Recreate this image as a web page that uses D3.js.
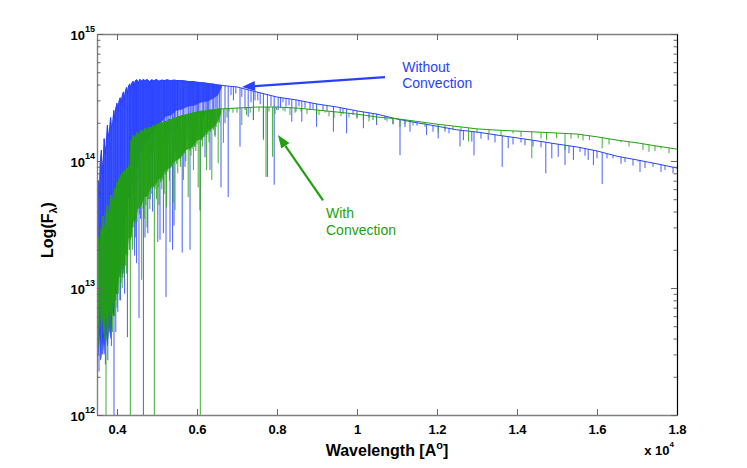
<!DOCTYPE html>
<html><head><meta charset="utf-8">
<script src="https://cdn.jsdelivr.net/npm/d3@7"></script>
<style>
body{margin:0;background:#fff}
text{font-family:"Liberation Sans",Arial,Helvetica,sans-serif}
</style>
</head><body><svg id="chart" width="747" height="468"></svg>
<script>
// Wavelength in units of 10^4 Angstrom, flux in units of 10^14
const xTicks = [0.4,0.6,0.8,1.0,1.2,1.4,1.6,1.8];
const xTickLabels = ["0.4","0.6","0.8","1","1.2","1.4","1.6","1.8"];
const yTickExponents = [12,13,14,15];
const yMinorMultipliers = [2,3,4,5,6,7,8,9];

// "Without Convection": upper envelope / continuum
const blueUpper = [[0.351,0.45],[0.353,0.70],[0.356,0.52],[0.358,0.95],[0.361,1.22],[0.363,0.80],[0.366,1.05],[0.368,1.50],[0.370,1.15],[0.373,1.35],[0.376,1.92],[0.378,1.55],[0.381,1.70],[0.384,2.20],[0.386,1.85],[0.389,1.95],[0.392,2.50],[0.394,2.15],[0.397,2.60],[0.400,2.85],[0.402,2.45],[0.405,2.95],[0.408,3.15],[0.410,2.75],[0.413,3.25],[0.416,3.50],[0.418,3.05],[0.421,3.55],[0.424,3.80],[0.426,3.40],[0.429,3.90],[0.432,4.05],[0.434,3.70],[0.437,4.10],[0.440,4.25],[0.443,3.95],[0.446,4.30],[0.450,4.36],[0.453,4.10],[0.457,4.40],[0.461,4.25],[0.465,4.38],[0.470,4.30],[0.476,4.38],[0.481,4.22],[0.487,4.36],[0.492,4.28],[0.498,4.38],[0.505,4.25],[0.512,4.34],[0.518,4.30],[0.526,4.36],[0.534,4.28],[0.542,4.34],[0.550,4.30],[0.560,4.30],[0.570,4.27],[0.580,4.22],[0.590,4.22],[0.600,4.17],[0.610,4.14],[0.620,4.12],[0.630,4.06],[0.640,4.04],[0.650,3.98],[0.660,3.95],[0.680,3.88],[0.700,3.83],[0.750,3.49],[0.80,3.19],[0.85,3.02],[0.90,2.81],[0.95,2.66],[1.00,2.48],[1.05,2.34],[1.10,2.14],[1.15,2.00],[1.20,1.88],[1.25,1.76],[1.30,1.69],[1.35,1.60],[1.40,1.52],[1.45,1.44],[1.50,1.36],[1.55,1.29],[1.60,1.20],[1.65,1.09],[1.70,1.02],[1.75,0.95],[1.80,0.88]];
// lower edge of the dense line forest
const blueFloor = [[0.351,0.05],[0.354,0.03],[0.357,0.045],[0.360,0.028],[0.364,0.04],[0.368,0.03],[0.372,0.045],[0.376,0.035],[0.380,0.05],[0.384,0.04],[0.388,0.065],[0.392,0.06],[0.396,0.09],[0.400,0.09],[0.404,0.14],[0.408,0.13],[0.412,0.22],[0.416,0.25],[0.420,0.36],[0.424,0.38],[0.428,0.52],[0.432,0.50],[0.436,0.68],[0.440,0.70],[0.445,0.90],[0.450,0.95],[0.456,1.15],[0.462,1.20],[0.470,1.40],[0.478,1.45],[0.486,1.70],[0.494,1.75],[0.502,1.95],[0.512,2.05],[0.522,2.25],[0.535,2.30],[0.548,2.50],[0.562,2.55],[0.578,2.70],[0.594,2.75],[0.610,2.90],[0.626,2.95],[0.640,3.10],[0.652,3.30],[0.662,3.85]];
// absorption lines: [wavelength, minimum flux]
const blueLines = [[0.355,0.022],[0.359,0.027],[0.364,0.03],[0.366,0.04],[0.371,0.025],[0.377,0.027],[0.382,0.05],[0.386,0.035],[0.3925,0.005],[0.397,0.045],[0.402,0.065],[0.409,0.08],[0.414,0.12],[0.419,0.09],[0.426,0.041],[0.431,0.2],[0.434,0.45],[0.438,0.3],[0.441,0.55],[0.444,0.18],[0.447,0.6],[0.449,0.157],[0.452,0.7],[0.455,0.058],[0.459,0.35],[0.463,0.8],[0.466,0.005],[0.470,0.25],[0.473,1.0],[0.477,0.27],[0.480,0.9],[0.483,0.5],[0.486,1.1],[0.489,0.4],[0.492,1.2],[0.495,0.6],[0.498,1.3],[0.502,0.23],[0.505,1.0],[0.5075,0.24],[0.512,0.7],[0.516,0.27],[0.519,1.5],[0.5225,0.085],[0.525,0.85],[0.528,1.4],[0.5325,0.23],[0.535,1.6],[0.539,0.20],[0.5425,0.31],[0.544,1.7],[0.547,1.2],[0.551,1.8],[0.5525,1.07],[0.558,1.4],[0.563,0.19],[0.566,2.0],[0.570,0.90],[0.575,1.5],[0.579,1.9],[0.5825,0.20],[0.585,2.1],[0.588,1.3],[0.591,2.2],[0.595,1.29],[0.598,2.0],[0.601,1.7],[0.604,2.3],[0.6075,0.41],[0.613,1.6],[0.616,2.2],[0.620,1.07],[0.623,2.4],[0.626,1.8],[0.629,2.3],[0.6325,0.85],[0.638,2.0],[0.641,2.5],[0.645,1.55],[0.648,2.6],[0.652,2.2],[0.656,2.4],[0.660,0.62],[0.670,1.99],[0.678,0.52],[0.685,3.3],[0.691,3.0],[0.697,3.4],[0.7075,1.30],[0.712,3.2],[0.720,2.52],[0.728,2.23],[0.735,2.9],[0.741,2.10],[0.745,3.0],[0.752,3.0],[0.758,2.8],[0.766,1.52],[0.776,0.75],[0.785,2.7],[0.793,0.65],[0.803,2.52],[0.809,2.61],[0.815,2.9],[0.8225,2.68],[0.83,2.75],[0.837,2.04],[0.8475,2.45],[0.855,2.7],[0.862,2.04],[0.87,2.6],[0.8825,2.52],[0.89,2.55],[0.899,1.86],[0.915,2.5],[0.925,2.45],[0.941,1.70],[0.958,2.4],[0.965,2.35],[0.974,1.65],[0.99,2.3],[1.0,2.2],[1.016,1.81],[1.03,2.2],[1.04,2.1],[1.049,1.92],[1.07,2.1],[1.09,1.95],[1.1075,1.11],[1.12,1.85],[1.1325,1.70],[1.15,1.9],[1.174,1.60],[1.19,1.7],[1.203,1.51],[1.22,1.7],[1.23,1.65],[1.2575,1.30],[1.266,1.46],[1.287,1.42],[1.2925,1.11],[1.31,1.5],[1.328,1.46],[1.345,1.4],[1.363,0.90],[1.378,1.26],[1.39,1.35],[1.41,1.4],[1.42,1.33],[1.44,1.3],[1.46,1.28],[1.472,0.80],[1.487,1.05],[1.503,1.08],[1.52,0.93],[1.53,1.15],[1.541,1.02],[1.5575,1.18],[1.57,1.1],[1.578,1.02],[1.591,0.93],[1.60,1.05],[1.613,0.66],[1.625,1.05],[1.64,1.05],[1.66,0.95],[1.67,0.98],[1.69,0.92],[1.703,0.99],[1.7075,0.82],[1.72,0.88],[1.74,0.9],[1.76,0.82],[1.77,0.85],[1.79,0.8]];

// "With Convection"
const greenUpper = [[0.351,0.15],[0.354,0.25],[0.357,0.18],[0.360,0.29],[0.363,0.22],[0.365,0.37],[0.368,0.26],[0.371,0.33],[0.375,0.45],[0.378,0.35],[0.381,0.42],[0.385,0.54],[0.388,0.44],[0.391,0.52],[0.395,0.61],[0.398,0.55],[0.400,0.68],[0.403,0.62],[0.405,0.73],[0.408,0.66],[0.410,0.78],[0.413,0.72],[0.415,0.82],[0.418,0.76],[0.420,0.85],[0.423,0.80],[0.425,0.88],[0.428,0.82],[0.430,0.93],[0.433,0.90],[0.435,1.46],[0.438,1.35],[0.440,1.60],[0.445,1.50],[0.450,1.69],[0.455,1.58],[0.460,1.75],[0.465,1.68],[0.470,1.82],[0.475,1.74],[0.480,1.85],[0.485,1.80],[0.490,1.92],[0.495,1.86],[0.500,1.96],[0.505,1.92],[0.510,2.03],[0.515,1.98],[0.520,2.06],[0.525,2.02],[0.530,2.14],[0.535,2.10],[0.540,2.18],[0.545,2.15],[0.550,2.22],[0.560,2.26],[0.570,2.30],[0.580,2.34],[0.590,2.39],[0.600,2.43],[0.610,2.47],[0.620,2.47],[0.630,2.52],[0.640,2.52],[0.650,2.57],[0.660,2.57],[0.700,2.61],[0.750,2.66],[0.800,2.66],[0.850,2.61],[0.900,2.52],[0.950,2.43],[1.00,2.34],[1.05,2.22],[1.10,2.15],[1.15,2.05],[1.20,1.95],[1.25,1.87],[1.30,1.79],[1.35,1.75],[1.40,1.72],[1.45,1.69],[1.50,1.66],[1.55,1.63],[1.60,1.55],[1.65,1.46],[1.70,1.39],[1.75,1.31],[1.80,1.24]];
const greenFloor = [[0.351,0.07],[0.354,0.05],[0.357,0.08],[0.360,0.055],[0.363,0.06],[0.367,0.045],[0.371,0.065],[0.375,0.05],[0.380,0.07],[0.384,0.06],[0.388,0.08],[0.392,0.075],[0.397,0.10],[0.401,0.09],[0.405,0.125],[0.409,0.12],[0.413,0.15],[0.417,0.14],[0.421,0.19],[0.425,0.18],[0.429,0.25],[0.434,0.24],[0.440,0.34],[0.446,0.33],[0.452,0.42],[0.460,0.44],[0.468,0.52],[0.476,0.53],[0.485,0.62],[0.494,0.63],[0.503,0.72],[0.512,0.74],[0.521,0.85],[0.532,0.88],[0.545,1.00],[0.558,1.05],[0.572,1.22],[0.586,1.28],[0.600,1.45],[0.614,1.52],[0.628,1.72],[0.642,1.85],[0.652,2.05],[0.660,2.35]];
const greenLines = [[0.353,0.035],[0.357,0.05],[0.361,0.03],[0.366,0.044],[0.369,0.04],[0.3725,0.005],[0.377,0.04],[0.380,0.045],[0.383,0.05],[0.386,0.06],[0.389,0.045],[0.392,0.07],[0.394,0.06],[0.397,0.08],[0.400,0.07],[0.403,0.09],[0.407,0.08],[0.410,0.11],[0.413,0.1],[0.416,0.13],[0.418,0.12],[0.421,0.15],[0.424,0.13],[0.427,0.18],[0.4333,0.005],[0.436,0.25],[0.439,0.2],[0.442,0.3],[0.446,0.25],[0.450,0.33],[0.456,0.38],[0.4617,0.116],[0.465,0.42],[0.468,0.35],[0.472,0.45],[0.475,0.3],[0.479,0.5],[0.482,0.42],[0.487,0.55],[0.4933,0.005],[0.499,0.5],[0.503,0.62],[0.505,0.45],[0.509,0.68],[0.512,0.6],[0.515,0.72],[0.518,0.55],[0.521,0.78],[0.524,0.43],[0.527,0.82],[0.531,0.7],[0.535,0.88],[0.54,0.47],[0.545,0.41],[0.549,0.95],[0.552,0.8],[0.556,1.05],[0.559,0.9],[0.563,1.1],[0.566,0.71],[0.569,1.15],[0.572,1.0],[0.578,0.52],[0.582,1.2],[0.585,1.1],[0.588,1.25],[0.591,0.85],[0.594,1.3],[0.597,1.2],[0.600,1.35],[0.603,0.62],[0.6083,0.005],[0.611,1.45],[0.614,1.3],[0.618,1.55],[0.624,0.85],[0.627,1.6],[0.630,1.4],[0.634,1.7],[0.637,0.71],[0.641,1.75],[0.645,1.6],[0.648,1.85],[0.653,0.96],[0.656,2.0],[0.666,1.39],[0.675,2.2],[0.68,2.45],[0.690,2.4],[0.70,2.4],[0.712,1.92],[0.724,2.30],[0.733,2.4],[0.741,2.10],[0.755,2.45],[0.766,1.46],[0.7725,0.75],[0.78,2.45],[0.789,1.08],[0.795,2.35],[0.799,2.52],[0.815,2.5],[0.82,2.45],[0.8325,2.30],[0.845,2.4],[0.860,2.45],[0.875,2.35],[0.899,2.30],[0.905,2.3],[0.920,2.4],[0.93,2.25],[0.9425,2.18],[0.96,2.25],[0.98,2.2],[1.0,2.15],[1.016,2.10],[1.03,2.05],[1.049,2.04],[1.075,2.05],[1.09,1.95],[1.1075,1.86],[1.12,1.95],[1.14,1.9],[1.17,1.85],[1.203,1.67],[1.22,1.78],[1.24,1.75],[1.26,1.7],[1.279,1.42],[1.30,1.65],[1.33,1.66],[1.36,1.6],[1.39,1.65],[1.41,1.55],[1.437,1.05],[1.46,1.5],[1.474,1.46],[1.499,1.51],[1.52,1.22],[1.535,1.5],[1.553,1.51],[1.565,1.45],[1.581,1.46],[1.599,1.60],[1.613,1.26],[1.63,1.35],[1.66,1.40],[1.68,1.3],[1.699,1.38],[1.715,1.22],[1.73,1.18],[1.745,1.2],[1.76,1.25],[1.78,1.15]];

// annotations (data coordinates)
const annotLabels = [["Without","Convection"],["With","Convection"]];
const annotTextAt = [[1.113,5.05],[0.9225,0.354]];
const annotArrowFrom = [[1.07,4.58],[0.915,0.49]];
const annotArrowTo = [[0.7125,3.83],[0.8025,1.60]];

const BLUE = "#2841ff", GREEN = "#22a012";
const annotColors = [BLUE, GREEN];

const m = {l:97, t:34}, iw = 580, ih = 381;
const svg = d3.select("#chart");
const defs = svg.append("defs");
const g = svg.append("g").attr("transform", `translate(${m.l},${m.t})`);
const x = d3.scaleLinear().domain([0.35,1.8]).range([0,iw]);
const y = d3.scaleLog().domain([1e12,1e15]).range([ih,0]);
const px = d => x(d[0]);
const py = d => y(d[1]*1e14);

defs.append("clipPath").attr("id","plotClip").append("rect").attr("width",iw).attr("height",ih);
const plot = g.append("g").attr("clip-path","url(#plotClip)");

function drawSeries(upper, floor, lines, color, id){
  const under = d3.area().x(px).y0(ih+20).y1(py);
  defs.append("clipPath").attr("id", id+"Under").append("path").attr("d", under(upper));
  const sg = plot.append("g");
  const f0 = floor[0][0], f1 = floor[floor.length-1][0];
  const top = upper.filter(d => d[0] >= f0 && d[0] <= f1);
  const poly = top.concat(floor.slice().reverse());
  sg.append("path").attr("d", d3.line().x(px).y(py)(poly) + "Z")
    .attr("fill", color).attr("fill-opacity", 0.9).attr("stroke", color).attr("stroke-width", 0.6).attr("stroke-opacity",0.7);
  sg.append("g").attr("clip-path", `url(#${id}Under)`)
    .selectAll("line").data(lines).join("line")
    .attr("x1", px).attr("x2", px).attr("y1", d => Math.min(py(d), ih+10)).attr("y2", -5)
    .attr("stroke", color).attr("stroke-width", 1).attr("stroke-opacity", 0.85);
  sg.append("path").attr("d", d3.line().x(px).y(py)(upper))
    .attr("fill","none").attr("stroke", color).attr("stroke-width", 1);
}
drawSeries(blueUpper, blueFloor, blueLines, BLUE, "blue");
drawSeries(greenUpper, greenFloor, greenLines, GREEN, "green");

// axes
const axColor = "#808080";
const xAxisB = d3.axisBottom(x).tickValues(xTicks).tickFormat((d,i)=>xTickLabels[i]).tickSizeInner(-6).tickSizeOuter(0).tickPadding(10);
const gxb = g.append("g").attr("transform", `translate(0,${ih})`).call(xAxisB);
gxb.selectAll("text").style("font-size","13px").style("font-weight","bold").attr("fill","#000");
const gxt = g.append("g").call(d3.axisTop(x).tickValues(xTicks).tickFormat("").tickSizeInner(-6).tickSizeOuter(0));

const yMajor = yTickExponents.map(e => Math.pow(10,e));
const yMinor = [];
yTickExponents.slice(0,-1).forEach(e => yMinorMultipliers.forEach(k => yMinor.push(k*Math.pow(10,e))));
const gyl = g.append("g").call(d3.axisLeft(y).tickValues(yMajor).tickFormat("").tickSizeInner(-6).tickSizeOuter(0));
const gylm = g.append("g").call(d3.axisLeft(y).tickValues(yMinor).tickFormat("").tickSizeInner(-3.5).tickSizeOuter(0));
const gyr = g.append("g").attr("transform",`translate(${iw},0)`).call(d3.axisRight(y).tickValues(yMajor).tickFormat("").tickSizeInner(-6).tickSizeOuter(0));
const gyrm = g.append("g").attr("transform",`translate(${iw},0)`).call(d3.axisRight(y).tickValues(yMinor).tickFormat("").tickSizeInner(-3.5).tickSizeOuter(0));
[gxb,gxt,gyl,gylm,gyrm].forEach(a => { a.select(".domain").attr("stroke",axColor).attr("stroke-width",1.4); a.selectAll(".tick line").attr("stroke","#666"); });
gyr.select(".domain").attr("stroke","#000").attr("stroke-width",1.2);
gyr.selectAll(".tick line").attr("stroke","#666");
gylm.select(".domain").remove(); gyrm.select(".domain").remove();

// y tick labels 10^n
yTickExponents.forEach(e => {
  const t = g.append("text").attr("x",-2).attr("y", y(Math.pow(10,e)) + 6)
    .attr("text-anchor","end").style("font-weight","bold").style("font-size","13px").attr("fill","#000");
  t.append("tspan").text("10");
  t.append("tspan").attr("dy",-8).style("font-size","9px").text(e);
});

// x multiplier
const mult = g.append("text").attr("x", iw-3).attr("y", ih+40).attr("text-anchor","end")
  .style("font-weight","bold").style("font-size","13px");
mult.append("tspan").text("x 10");
mult.append("tspan").attr("dy",-8).style("font-size","8px").text("4");

// axis titles
const xl = g.append("text").attr("x", iw/2).attr("y", ih+41).attr("text-anchor","middle")
  .style("font-weight","bold").style("font-size","16px");
xl.append("tspan").text("Wavelength [A");
xl.append("tspan").attr("dy",-7).style("font-size","11px").text("o");
xl.append("tspan").attr("dy",7).text("]");

const yl = svg.append("text").attr("transform","translate(53,230) rotate(-90)").attr("text-anchor","middle")
  .style("font-weight","bold").style("font-size","16px");
yl.append("tspan").text("Log(F");
yl.append("tspan").attr("dy",4).style("font-size","11px").text("λ");
yl.append("tspan").attr("dy",-4).text(")");

// annotations
annotLabels.forEach((lines,i) => {
  const c = annotColors[i];
  const t = g.append("text").attr("x", x(annotTextAt[i][0])).attr("y", y(annotTextAt[i][1]*1e14))
    .attr("fill", c).style("font-size","14px");
  lines.forEach((s,j) => t.append("tspan").attr("x", x(annotTextAt[i][0])).attr("dy", j===0?0:16.6).text(s));
  const x1 = x(annotArrowFrom[i][0]), y1 = y(annotArrowFrom[i][1]*1e14);
  const x2 = x(annotArrowTo[i][0]), y2 = y(annotArrowTo[i][1]*1e14);
  const a = Math.atan2(y2-y1, x2-x1), L = 13, Wd = 5;
  const bx = x2 - L*Math.cos(a), by = y2 - L*Math.sin(a);
  g.append("line").attr("x1",x1).attr("y1",y1).attr("x2",bx).attr("y2",by).attr("stroke",c).attr("stroke-width",2.2);
  g.append("path").attr("d", `M${x2},${y2}L${bx + Wd*Math.sin(a)},${by - Wd*Math.cos(a)}L${bx - Wd*Math.sin(a)},${by + Wd*Math.cos(a)}Z`).attr("fill",c);
});
</script>
</body></html>
